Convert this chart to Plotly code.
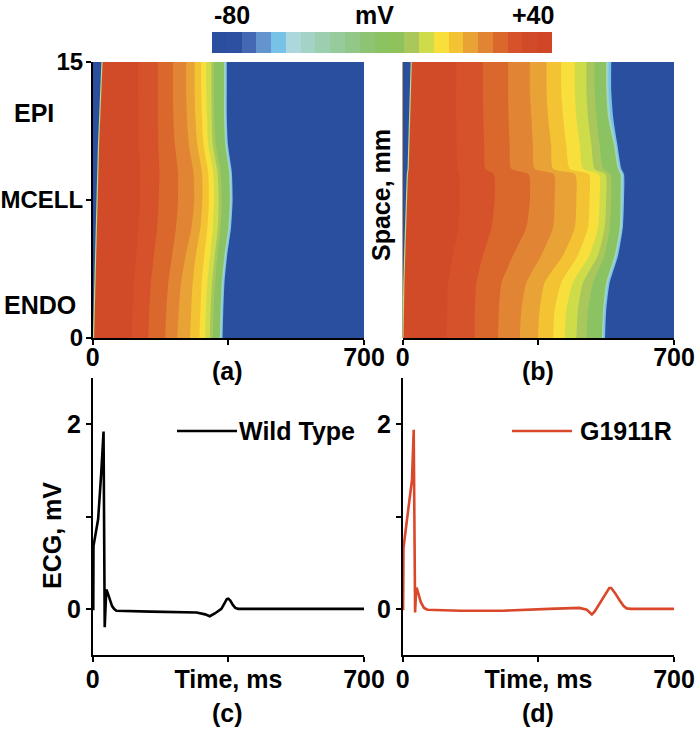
import numpy as np
import plotly.graph_objects as go

W, H = 697, 730

# 23 colour steps of the -80 .. +40 mV scale
BAND_COLORS = ["#2b4f9f", "#2d51a0", "#4468b1", "#6394cd", "#77c3e8", "#abd7dd",
               "#a3d3c4", "#9ccfb0", "#96cb9b", "#91c887", "#8dc474", "#8cc362",
               "#8fc25b", "#a9c75a", "#cfdc4a", "#f8df3c", "#f3c334", "#e8a236",
               "#e18434", "#da672c", "#d5522a", "#d24b29", "#d04627"]
SCALE_MIN, SCALE_MAX = -80, 40

# colour step shown in each strip between two consecutive fronts
STRIP_BANDS = [21, 20, 19, 18, 17, 16, 15, 14, 13, 11, 6, 4]

# space (mm) rows, and for each row: activation time, then the time (ms)
# at which each colour strip ends
SPACE_WT = [0, 1.5, 3, 4.5, 6, 7.5, 9, 10.5, 12, 13.5, 15]
FRONTS_WT = [
    [2, 100, 143, 187, 218, 251, 275, 290, 302, 310, 328, 332, 335],
    [4, 103, 146, 190, 222, 254, 278, 292, 304, 312, 330, 334, 337],
    [5, 106, 150, 195, 228, 258, 281, 296, 308, 316, 333, 337, 340],
    [7, 112, 158, 205, 240, 266, 288, 303, 315, 322, 340, 344, 347],
    [9, 118, 166, 215, 255, 278, 296, 310, 323, 330, 350, 354, 357],
    [10, 122, 170, 220, 262, 283, 300, 313, 325, 333, 354, 358, 361],
    [12, 122, 172, 220, 260, 282, 298, 311, 322, 330, 352, 356, 359],
    [15, 119, 169, 212, 248, 270, 286, 298, 310, 318, 342, 346, 349],
    [18, 118, 168, 208, 243, 265, 282, 295, 307, 314, 339, 343, 346],
    [21, 117, 168, 207, 241, 263, 280, 293, 306, 313, 339, 343, 346],
    [24, 117, 168, 207, 241, 263, 280, 293, 306, 313, 339, 343, 346],
]

SPACE_MUT = [0, 1.5, 3, 4.5, 6, 7.5, 8.9, 9.2, 10.5, 12, 13.5, 15]
FRONTS_MUT = [
    [0.5, 113, 186, 246, 302, 349, 388, 418, 448, 474, 514, 518, 522],
    [1, 115, 186, 248, 306, 353, 392, 422, 452, 478, 517, 521, 525],
    [3, 117, 190, 255, 319, 366, 409, 439, 465, 491, 525, 530, 534],
    [5, 130, 207, 285, 358, 414, 452, 482, 504, 521, 547, 552, 556],
    [7, 143, 229, 319, 388, 444, 478, 504, 521, 534, 560, 565, 568],
    [9, 147, 237, 328, 392, 448, 482, 508, 525, 538, 562, 567, 571],
    [12, 145, 235, 325, 390, 445, 480, 506, 523, 536, 562, 567, 571],
    [14, 141, 213, 280, 340, 388, 431, 465, 495, 517, 555, 560, 564],
    [16, 139, 210, 276, 336, 383, 422, 457, 487, 508, 545, 550, 554],
    [18, 138, 208, 273, 332, 375, 414, 448, 478, 500, 530, 536, 543],
    [20, 138, 207, 272, 328, 371, 409, 444, 474, 495, 525, 531, 538],
    [22, 138, 207, 272, 328, 371, 409, 444, 474, 495, 525, 531, 538],
]

# pseudo ECG traces
WT_T = [0, 1.5, 2, 14, 22, 28, 31, 33, 35, 38, 44, 50, 55, 61, 150, 268, 290,
        302, 315, 325, 332, 340, 346, 350, 355, 362, 368, 375, 700]
WT_MV = [0, 0, 0.68, 0.97, 1.47, 1.92, -0.2, 0.1, 0.21, 0.18, 0.1, 0.03, 0.0,
         -0.02, -0.03, -0.04, -0.06, -0.08, -0.05, -0.02, 0.0, 0.06, 0.105, 0.11,
         0.09, 0.04, 0.01, 0.0, 0.0]
MUT_T = [0, 1, 2, 24, 28.4, 32, 34, 36, 40, 47, 55, 64, 150, 260, 378, 456, 475,
         488, 495, 510, 525, 533, 538, 548, 560, 570, 578, 590, 700]
MUT_MV = [0, 0, 0.66, 1.4, 1.94, -0.04, 0.15, 0.23, 0.17, 0.07, 0.01, -0.01, -0.02,
          -0.02, 0.0, 0.01, -0.01, -0.06, -0.03, 0.07, 0.18, 0.225, 0.225, 0.17,
          0.09, 0.03, 0.005, 0.0, 0.0]


def px(x):
    return x / W


def py(y):
    return 1 - y / H


FONT = dict(family="Liberation Sans, Arial, sans-serif", size=25, color="black", weight="bold")
FONT24 = dict(FONT, size=24)


def add_map(fig, space, fronts, xa, ya):
    fronts = np.array(fronts, dtype=float)
    # outermost strip first, each one filled back to t = 0
    for k in range(fronts.shape[1] - 1, 0, -1):
        fig.add_trace(go.Scatter(
            x=fronts[:, k], y=space, mode="lines",
            line=dict(width=0, shape="spline", smoothing=0.6),
            fill="tozerox", fillcolor=BAND_COLORS[STRIP_BANDS[k - 1]],
            xaxis=xa, yaxis=ya, hoverinfo="skip", showlegend=False))
    # resting tissue before the activation front
    fig.add_trace(go.Scatter(
        x=fronts[:, 0], y=space, mode="lines", line=dict(width=1.2, color="#b9dc8a"),
        fill="tozerox", fillcolor=BAND_COLORS[0],
        xaxis=xa, yaxis=ya, hoverinfo="skip", showlegend=False))


fig = go.Figure()
add_map(fig, SPACE_WT, FRONTS_WT, "x", "y")
add_map(fig, SPACE_MUT, FRONTS_MUT, "x2", "y2")

fig.add_trace(go.Scatter(x=WT_T, y=WT_MV, mode="lines", name="Wild Type",
                         line=dict(color="black", width=2.6), xaxis="x3", yaxis="y3",
                         showlegend=False))
fig.add_trace(go.Scatter(x=MUT_T, y=MUT_MV, mode="lines", name="G1911R",
                         line=dict(color="#d9482a", width=2.6), xaxis="x4", yaxis="y4",
                         showlegend=False))

# colour scale strip
edges = np.linspace(SCALE_MIN, SCALE_MAX, len(BAND_COLORS) + 1)
centres = (edges[:-1] + edges[1:]) / 2
cscale = []
for i, c in enumerate(BAND_COLORS):
    cscale += [[i / len(BAND_COLORS), c], [(i + 1) / len(BAND_COLORS), c]]
fig.add_trace(go.Heatmap(z=[list(centres)], x=list(centres), colorscale=cscale,
                         zmin=SCALE_MIN, zmax=SCALE_MAX, showscale=False,
                         xaxis="x5", yaxis="y5", hoverinfo="skip"))

AX = dict(showline=True, linecolor="black", linewidth=1.5, ticks="outside",
          ticklen=5, tickwidth=1.5, tickcolor="black", showgrid=False,
          zeroline=False, tickfont=FONT, automargin=False)
MAP_X = dict(AX, range=[0, 700], tickvals=[0, 350, 700], ticktext=["0", "", "700"],
             ticklabelstandoff=-9)
ECG_X = dict(AX, range=[0, 700], tickvals=[0, 350, 700],
             ticktext=["0", "Time, ms", "700"], ticklabelstandoff=-4)
ECG_Y = dict(AX, range=[-0.5, 2.5], tickvals=[0, 1, 2], ticktext=["0", "", "2"])

left = [px(92.7), px(364)]
right = [px(402.7), px(674)]
top = [py(338), py(62)]
bottom = [py(655), py(378)]

fig.update_layout(
    width=W, height=H, margin=dict(l=0, r=0, t=0, b=0, autoexpand=False),
    paper_bgcolor="white", plot_bgcolor="white", font=FONT,
    xaxis=dict(MAP_X, domain=left, anchor="y"),
    yaxis=dict(AX, domain=top, range=[0, 15], tickvals=[0, 7.5, 15],
               ticktext=["0", "MCELL", "15"], anchor="x", tickfont=FONT24,
               ticklabelstandoff=-2),
    xaxis2=dict(MAP_X, domain=right, anchor="y2"),
    yaxis2=dict(domain=top, range=[0, 15], showticklabels=False, ticks="",
                showgrid=False, zeroline=False, anchor="x2", automargin=False),
    xaxis3=dict(ECG_X, domain=left, anchor="y3"),
    yaxis3=dict(ECG_Y, domain=bottom, anchor="x3"),
    xaxis4=dict(ECG_X, domain=right, anchor="y4"),
    yaxis4=dict(ECG_Y, domain=bottom, anchor="x4"),
    xaxis5=dict(domain=[px(212), px(552)], range=[SCALE_MIN, SCALE_MAX],
                visible=False, anchor="y5", automargin=False),
    yaxis5=dict(domain=[py(53), py(32)], visible=False, anchor="x5", automargin=False),
)

for xr, yr in (("x domain", "y domain"), ("x2 domain", "y2 domain")):
    fig.add_shape(type="rect", xref=xr, yref=yr, x0=0, x1=1, y0=0, y1=1,
                  fillcolor=BAND_COLORS[0], line=dict(width=0), layer="below")

# legend samples
fig.add_shape(type="line", xref="paper", yref="paper", x0=px(177), x1=px(237),
              y0=py(431), y1=py(431), line=dict(color="black", width=2.6))
fig.add_shape(type="line", xref="paper", yref="paper", x0=px(512), x1=px(572),
              y0=py(431), y1=py(431), line=dict(color="#d9482a", width=2.6))

labels = [
    ("-80", 232, 15, "center", 0), ("mV", 375, 15, "center", 0), ("+40", 533, 15, "center", 0),
    ("EPI", 34, 113, "center", 0), ("ENDO", 40, 305, "center", 0),
    ("(a)", 228, 371, "center", 0), ("(b)", 538, 371, "center", 0),
    ("(c)", 228, 713, "center", 0), ("(d)", 538, 713, "center", 0),
    ("Space, mm", 381, 195, "center", -90), ("ECG, mV", 52, 536, "center", -90),
    ("Wild Type", 237, 431, "left", 0), ("G1911R", 578, 431, "left", 0),
]
for text, x, y, xa, ang in labels:
    fig.add_annotation(text=text, x=px(x), y=py(y), xref="paper", yref="paper",
                       xanchor=xa, yanchor="middle", showarrow=False,
                       textangle=ang, font=FONT)

# the page is photographed from its top-left corner, so drop the body margin
fig.write_html("out.html", config={"displayModeBar": False},
               post_script="document.body.style.margin='0px';")
